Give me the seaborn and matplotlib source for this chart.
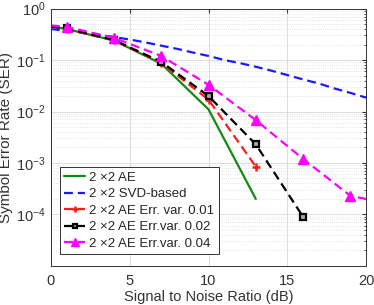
import numpy as np
import pandas as pd
import matplotlib
matplotlib.use("Agg")
import matplotlib.pyplot as plt
import seaborn as sns
from matplotlib.ticker import LogLocator, NullFormatter

sns.set_style("whitegrid")
plt.rcParams["font.family"] = ["Liberation Sans", "DejaVu Sans"]
plt.rcParams["mathtext.fontset"] = "custom"
plt.rcParams["mathtext.rm"] = "Liberation Sans"

# data
snr_ae = [0, 1, 4, 7, 10, 13]
ser_ae = [0.45, 0.40, 0.24, 0.085, 0.011, 2.0e-4]

snr_svd = list(range(0, 21))
ser_svd = [0.40, 0.37, 0.34, 0.31, 0.28, 0.25, 0.22, 0.19, 0.165, 0.14, 0.12,
           0.10, 0.087, 0.074, 0.062, 0.051, 0.042, 0.035, 0.028, 0.023, 0.0186]

snr_e01 = [0, 1, 4, 7, 10, 13]
ser_e01 = [0.45, 0.40, 0.24, 0.088, 0.017, 8.5e-4]

snr_e02 = [0, 1, 4, 7, 10, 13, 16]
ser_e02 = [0.45, 0.41, 0.245, 0.092, 0.020, 0.0023, 9.0e-5]

snr_e04 = [0, 1, 4, 7, 10, 13, 16, 19, 20]
ser_e04 = [0.47, 0.44, 0.27, 0.12, 0.033, 0.0068, 0.0012, 2.3e-4, 2.0e-4]

labels = ["2 \u00d72 AE", "2 \u00d72 SVD-based", "2 \u00d72 AE Err. var. 0.01",
          "2 \u00d72 AE Err.var. 0.02", "2 \u00d72 AE Err.var. 0.04"]

fig = plt.figure(figsize=(3.74, 3.05), dpi=100)
ax = fig.add_axes([0.136, 0.128, 0.843, 0.844])

dash = (4, 2.2)
sns.lineplot(x=snr_ae, y=ser_ae, ax=ax, color="#138a13", lw=1.6, label=labels[0])
sns.lineplot(x=snr_svd, y=ser_svd, ax=ax, color="#1a1aff", lw=1.6,
             linestyle=(0, dash), label=labels[1])
sns.lineplot(x=snr_e01, y=ser_e01, ax=ax, color="#ff1a1a", lw=1.6,
             linestyle=(0, dash), marker="+", ms=6, mew=1.8, mec="#ff1a1a",
             markevery=list(range(1, len(snr_e01))), label=labels[2])
sns.lineplot(x=snr_e02, y=ser_e02, ax=ax, color="black", lw=1.6,
             linestyle=(0, dash), marker="s", ms=4.2, mew=1.6, mfc="#aaaaaa",
             mec="black", markevery=list(range(1, len(snr_e02))), label=labels[3])
sns.lineplot(x=snr_e04, y=ser_e04, ax=ax, color="#ff00ff", lw=1.6,
             linestyle=(0, dash), marker="^", ms=7, mew=1.0, mfc="#ff00ff",
             mec="#ff00ff", markevery=list(range(1, len(snr_e04) - 1)),
             label=labels[4])

ax.set_yscale("log")
ax.set_xlim(0, 20)
ax.set_ylim(1e-5, 1)
ax.set_xticks([0, 5, 10, 15, 20])
ax.set_yticks([1e-4, 1e-3, 1e-2, 1e-1, 1e0])
ax.yaxis.set_minor_locator(LogLocator(base=10, subs=np.arange(2, 10), numticks=20))
ax.yaxis.set_minor_formatter(NullFormatter())

ax.grid(True, which="major", color="#dcdcdc", lw=0.7, ls="-")
ax.grid(True, which="minor", color="#dcdcdc", lw=0.6, ls=":")
ax.tick_params(which="both", direction="in", labelsize=10.5, colors="#333333",
               length=3, top=True, right=True)
ax.tick_params(axis="x", pad=6)
ax.tick_params(which="minor", length=1.5)
for s in ax.spines.values():
    s.set_color("#333333")
    s.set_linewidth(0.7)

ax.set_xlabel("Signal to Noise Ratio (dB)", fontsize=10.5, color="#333333", labelpad=1)
ax.set_ylabel("Symbol Error Rate (SER)", fontsize=11, color="#333333", labelpad=2)

leg = ax.legend(loc="lower left", bbox_to_anchor=(0.028, 0.045), fontsize=9.5,
                frameon=True, fancybox=False, framealpha=1, edgecolor="#333333",
                handlelength=1.6, handletextpad=0.3, borderpad=0.35,
                labelspacing=0.32, borderaxespad=0, markerscale=0.75)
leg.get_frame().set_linewidth(0.7)

fig.savefig("out.png", dpi=100)
